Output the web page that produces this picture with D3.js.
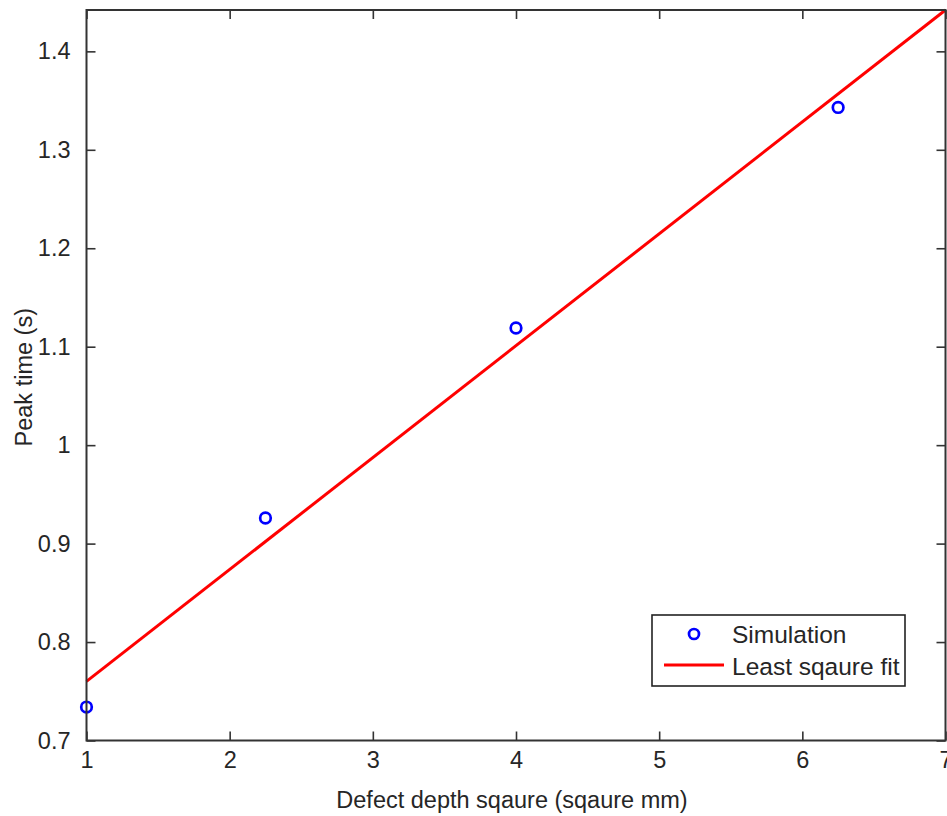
<!DOCTYPE html>
<html>
<head>
<meta charset="utf-8">
<script src="https://cdn.jsdelivr.net/npm/d3@7"></script>
<style>
  html, body { margin: 0; padding: 0; background: #fff; }
  text { font-family: "Liberation Sans", Arial, sans-serif; fill: #262626; }
</style>
</head>
<body>
<svg id="chart" width="947" height="816"></svg>
<script>
// Data
const simX = [1, 2.25, 4, 6.25];
const simY = [0.734, 0.926, 1.119, 1.343];
const fitX = [1, 7];
const fitY = [0.760, 1.442];
const xTicks = [1, 2, 3, 4, 5, 6, 7];
const xTickLabels = ["1", "2", "3", "4", "5", "6", "7"];
const yTicks = [0.7, 0.8, 0.9, 1.0, 1.1, 1.2, 1.3, 1.4];
const yTickLabels = ["0.7", "0.8", "0.9", "1", "1.1", "1.2", "1.3", "1.4"];
const seriesNames = ["Simulation", "Least sqaure fit"];
const xLabel = "Defect depth sqaure (sqaure mm)";
const yLabel = "Peak time (s)";

const svg = d3.select("#chart");
const L = 86.5, R = 945.5, T = 10, B = 740.5;
const x = d3.scaleLinear().domain([1, 7]).range([L, R]);
const y = d3.scaleLinear().domain([0.7, 1.442]).range([B, T]);
const axisColor = "#333333";
const fontSize = 23.5;
const tickLen = 9;

// Series: fit line
const lineGen = d3.line().x(d => x(d[0])).y(d => y(d[1]));
svg.append("path")
  .datum(d3.zip(fitX, fitY))
  .attr("d", lineGen)
  .attr("fill", "none")
  .attr("stroke", "#ff0000")
  .attr("stroke-width", 3);

// Series: simulation markers
svg.selectAll("circle.sim")
  .data(d3.zip(simX, simY))
  .join("circle")
  .attr("class", "sim")
  .attr("cx", d => x(d[0]))
  .attr("cy", d => y(d[1]))
  .attr("r", 5.3)
  .attr("fill", "none")
  .attr("stroke", "#0000ff")
  .attr("stroke-width", 2.7);

// Axes (box with inward ticks on all sides)
const fmtX = (d, i) => xTickLabels[i];
const fmtY = (d, i) => yTickLabels[i];

const gBottom = svg.append("g").attr("transform", `translate(0,${B})`)
  .call(d3.axisBottom(x).tickValues(xTicks).tickFormat(fmtX).tickSizeInner(-tickLen).tickSizeOuter(0).tickPadding(tickLen + 2));
const gTop = svg.append("g").attr("transform", `translate(0,${T})`)
  .call(d3.axisTop(x).tickValues(xTicks).tickFormat("").tickSizeInner(-tickLen).tickSizeOuter(0));
const gLeft = svg.append("g").attr("transform", `translate(${L},0)`)
  .call(d3.axisLeft(y).tickValues(yTicks).tickFormat(fmtY).tickSizeInner(-tickLen).tickSizeOuter(0).tickPadding(8 + tickLen - 1));
const gRight = svg.append("g").attr("transform", `translate(${R},0)`)
  .call(d3.axisRight(y).tickValues(yTicks).tickFormat("").tickSizeInner(-tickLen).tickSizeOuter(0));

[gBottom, gTop, gLeft, gRight].forEach(g => {
  g.select(".domain").remove();
  g.selectAll(".tick line").attr("stroke", axisColor).attr("stroke-width", 1.6);
  g.selectAll(".tick text")
    .attr("font-family", "Liberation Sans, Arial, sans-serif")
    .attr("font-size", fontSize)
    .attr("fill", "#262626");
});
gBottom.selectAll(".tick text").attr("dy", "0.72em");

// Frame
svg.append("rect")
  .attr("x", L).attr("y", T)
  .attr("width", R - L).attr("height", B - T)
  .attr("fill", "none")
  .attr("stroke", axisColor)
  .attr("stroke-width", 2);

// Axis labels
svg.append("text")
  .attr("x", 512).attr("y", 808)
  .attr("text-anchor", "middle")
  .attr("font-size", fontSize)
  .text(xLabel);
svg.append("text")
  .attr("transform", `translate(32,${(T + B) / 2 + 2}) rotate(-90)`)
  .attr("text-anchor", "middle")
  .attr("font-size", fontSize)
  .text(yLabel);

// Legend
const lg = svg.append("g");
lg.append("rect")
  .attr("x", 652).attr("y", 615)
  .attr("width", 253).attr("height", 71)
  .attr("fill", "#fff")
  .attr("stroke", "#222")
  .attr("stroke-width", 1.6);
lg.append("circle")
  .attr("cx", 694).attr("cy", 634).attr("r", 5)
  .attr("fill", "none").attr("stroke", "#0000ff").attr("stroke-width", 2.7);
lg.append("line")
  .attr("x1", 664).attr("x2", 724).attr("y1", 665).attr("y2", 665)
  .attr("stroke", "#ff0000").attr("stroke-width", 3);
lg.selectAll("text.leg")
  .data(seriesNames)
  .join("text")
  .attr("class", "leg")
  .attr("x", 732)
  .attr("y", (d, i) => i === 0 ? 643 : 675)
  .attr("font-size", 24.5)
  .text(d => d);
</script>
</body>
</html>
